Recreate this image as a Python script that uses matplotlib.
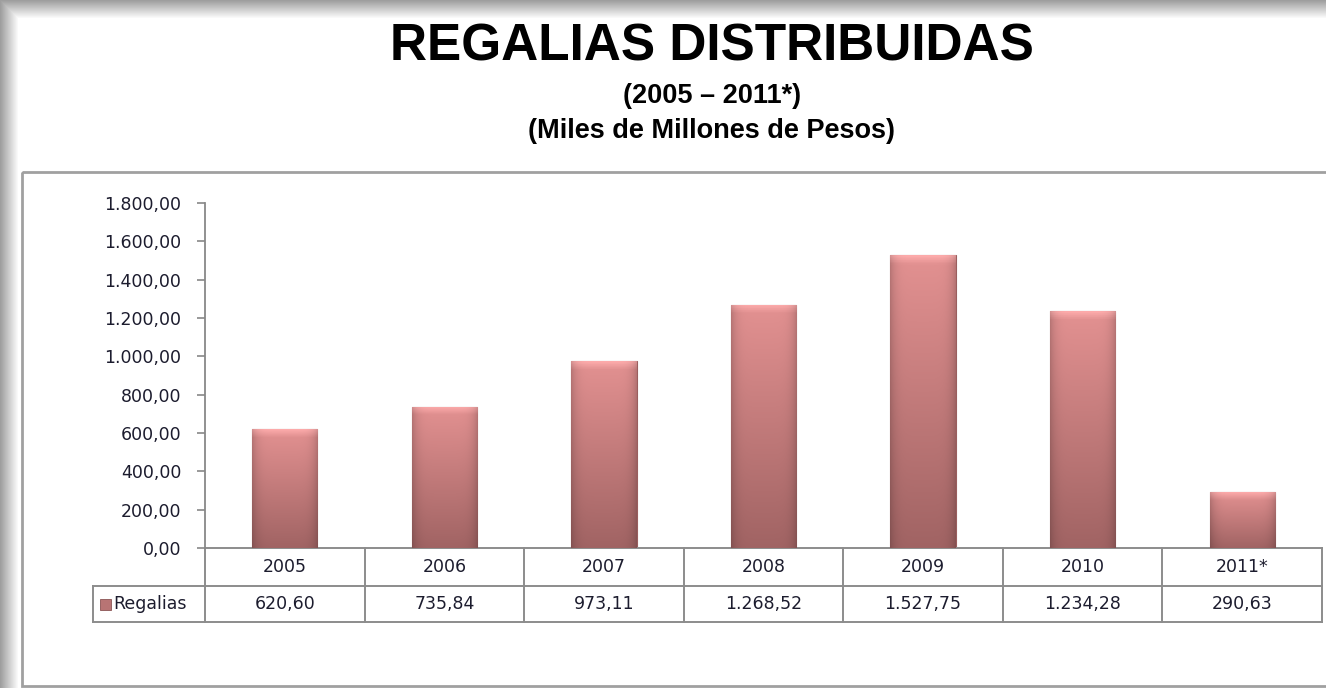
"""Regalias distribuidas 2005-2011*: barras con tabla de datos debajo."""
import numpy as np
import matplotlib
matplotlib.use("Agg")
import matplotlib.pyplot as plt
from matplotlib.patches import Rectangle
from matplotlib.transforms import blended_transform_factory

# datos
years = ["2005", "2006", "2007", "2008", "2009", "2010", "2011*"]
regalias = [620.60, 735.84, 973.11, 1268.52, 1527.75, 1234.28, 290.63]
value_labels = ["620,60", "735,84", "973,11", "1.268,52", "1.527,75", "1.234,28", "290,63"]
yticks = [0, 200, 400, 600, 800, 1000, 1200, 1400, 1600, 1800]
ytick_labels = ["0,00", "200,00", "400,00", "600,00", "800,00", "1.000,00",
                "1.200,00", "1.400,00", "1.600,00", "1.800,00"]
series_name = "Regalias"

W, H = 1326, 696
TITLE_FONT = ["Liberation Sans", "DejaVu Sans"]
BODY_FONT = ["DejaVu Sans"]
TXT = "#1c1c2e"
FS = 12.5

fig = plt.figure(figsize=(W / 100, H / 100), dpi=100)

# fondo con sombra gris arriba e izquierda
bg = fig.add_axes([0, 0, 1, 1], zorder=-5)
yy, xx = np.mgrid[0:H, 0:W]
shade = np.minimum(np.clip(yy / 18, 0, 1), np.where(yy < 688, np.clip(xx / 18, 0, 1), 1))
gray = 0.62 + 0.38 * shade
bg.imshow(np.dstack([gray, gray, gray]), extent=[0, W, H, 0], aspect="auto")
bg.add_patch(Rectangle((22, 172), W + 20, 514, fill=False, ec="#a0a0a0", lw=2))
bg.set_xlim(0, W)
bg.set_ylim(H, 0)
bg.axis("off")

# titulos
fig.text(712 / W, 1 - 47 / H, "REGALIAS DISTRIBUIDAS", ha="center", va="center",
         fontsize=37, fontweight="bold", family=TITLE_FONT)
fig.text(712 / W, 1 - 96 / H, "(2005 \u2013 2011*)", ha="center", va="center",
         fontsize=19.5, fontweight="bold", family=TITLE_FONT)
fig.text(712 / W, 1 - 131 / H, "(Miles de Millones de Pesos)", ha="center", va="center",
         fontsize=19.5, fontweight="bold", family=TITLE_FONT)

ax = fig.add_axes([205 / W, (H - 548) / H, 1117 / W, 345 / H])
ax.set_facecolor("none")
x = np.arange(len(years))
bars = ax.bar(x, regalias, width=0.41, color="#d28686", edgecolor="#9a5e5e", lw=0.8, zorder=2)

# degradado de cada barra
ny, nx = 120, 60
v = np.linspace(0, 1, ny)[:, None]
h = np.abs(np.linspace(-1, 1, nx))[None, :]
dark = np.array([0.63, 0.39, 0.39])
light = np.array([0.89, 0.57, 0.57])
grad = dark + (light - dark) * v[..., None]
grad = grad * (1 - 0.18 * h[..., None] ** 6)
for b in bars:
    x0, y0 = b.get_x(), b.get_y()
    bw, bh = b.get_width(), b.get_height()
    top_px = 8 / 345 * 1800  # bisel superior
    frac = np.clip((bh - v[:, 0] * bh) / top_px, 0, 1)
    g = grad + (1 - frac)[:, None, None] * 0.10
    im = ax.imshow(np.clip(g, 0, 1), extent=[x0, x0 + bw, y0, y0 + bh], origin="lower",
                   aspect="auto", zorder=2.5)
    im.set_clip_path(b)

ax.set_xlim(-0.5, len(years) - 0.5)
ax.set_ylim(0, 1800)
ax.set_yticks(yticks)
ax.set_yticklabels(ytick_labels, family=BODY_FONT, fontsize=FS, color=TXT)
ax.set_xticks([])
ax.tick_params(axis="y", length=6, width=1.2, color="#888888", pad=11)
for side in ["top", "right", "bottom"]:
    ax.spines[side].set_visible(False)
ax.spines["left"].set_color("#888888")
ax.spines["left"].set_linewidth(1.3)

# tabla de datos
tr = blended_transform_factory(ax.transData, ax.transAxes)
r1 = -38 / 345
r2 = -74 / 345
xl = -0.5 + (93 - 205) / 160
line_kw = dict(color="#8c8c8c", lw=1.4, transform=tr, clip_on=False)
ax.plot([-0.5, len(years) - 0.5], [0, 0], **line_kw)
ax.plot([xl, len(years) - 0.5], [r1, r1], **line_kw)
ax.plot([xl, len(years) - 0.5], [r2, r2], **line_kw)
for k in range(len(years) + 1):
    ax.plot([k - 0.5, k - 0.5], [0, r2], **line_kw)
ax.plot([xl, xl], [r1, r2], **line_kw)

for i, (yr, lab) in enumerate(zip(years, value_labels)):
    ax.text(i, r1 / 2, yr, transform=tr, ha="center", va="center",
            family=BODY_FONT, fontsize=FS, color=TXT, clip_on=False)
    ax.text(i, (r1 + r2) / 2, lab, transform=tr, ha="center", va="center",
            family=BODY_FONT, fontsize=FS, color=TXT, clip_on=False)

sq = 11 / 160
ax.add_patch(Rectangle((xl + 7 / 160, (r1 + r2) / 2 - 5.5 / 345), sq, 11 / 345,
                       transform=tr, clip_on=False, fc="#b87474", ec="#8a5454", lw=0.6))
ax.text(xl + 20 / 160, (r1 + r2) / 2, series_name, transform=tr, ha="left", va="center",
        family=BODY_FONT, fontsize=FS, color=TXT, clip_on=False)

fig.savefig("out.png", dpi=100)
